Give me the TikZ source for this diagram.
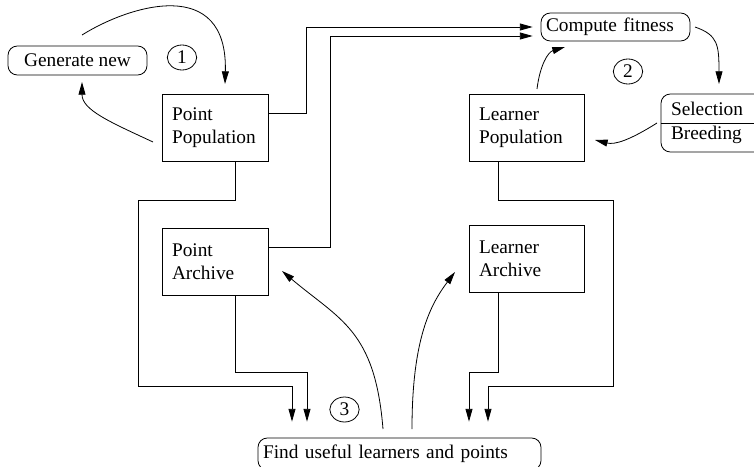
\documentclass[tikz,border=0pt]{standalone}
\usepackage{fontspec}
\setmainfont{Liberation Serif}
\usetikzlibrary{shapes.geometric, arrows.meta}

\begin{document}
\begin{tikzpicture}[x=0.75pt, y=-0.75pt, font=\fontsize{14.5}{17.5}\selectfont]
  \tikzstyle{popbox} = [rectangle, draw=black, line width=0.6pt, align=left, inner xsep=7.5pt, minimum height=50.25pt]
  \tikzstyle{taskbox} = [rectangle, rounded corners=7pt, draw=black, line width=0.6pt, inner xsep=3.75pt, inner ysep=0pt]
  \tikzstyle{stepnum} = [ellipse, draw=black, line width=0.6pt, inner sep=0pt, minimum width=22pt, minimum height=18.75pt]
  \tikzstyle{connector} = [line width=0.6pt, -{Triangle[length=9.5pt, width=5.2pt]}]

  \useasboundingbox (0,0) rectangle (754,467);

  % Populations and archives
  \node (ppop) at (215,127.5) [popbox, text width=64.5pt] {Point\\Population};
  \node (parch) at (215,261.5) [popbox, text width=64.5pt] {Point\\Archive};
  \node (lpop) at (526.5,127.5) [popbox, text width=71.25pt] {Learner\\Population};
  \node (larch) at (526.5,259) [popbox, text width=71.25pt, minimum height=50.25pt] {Learner\\Archive};

  % Tasks
  \node (gen) at (77.5,60.5) [taskbox, minimum width=104.25pt, minimum height=21.75pt] {Generate new};
  \node (cfit) at (615.5,27) [taskbox, text width=104.25pt, minimum height=21pt] {Compute fitness};
  \node (find) at (399.5,454) [taskbox, text width=204.75pt, minimum height=24pt] {Find useful learners and points};
  \node (selbr) at (714,123) [taskbox, text width=64.5pt, inner xsep=7.5pt, minimum height=43.5pt, align=left] {Selection\\Breeding};
  \draw[line width=0.6pt] (selbr.west) -- (selbr.east);

  % Step numbers
  \node (one) at (182,57.5) [stepnum] {1};
  \node (two) at (628,71.5) [stepnum] {2};
  \node (three) at (344.5,409.5) [stepnum] {3};

  % Free ends of the curved arrows
  \coordinate (genout) at (82,35);
  \coordinate (ppopin) at (225,84);
  \coordinate (ppopout) at (153,142);
  \coordinate (genin) at (82,82);
  \coordinate (lpopout) at (537,89);
  \coordinate (cfitin) at (565,47);
  \coordinate (cfitout) at (695,27);
  \coordinate (selin) at (719,84);
  \coordinate (selout) at (657,123);
  \coordinate (lpopin) at (595,140);
  \coordinate (findoutl) at (383,429);
  \coordinate (parchin) at (282,271);
  \coordinate (findoutr) at (412,429);
  \coordinate (larchin) at (455,272);

  % Cycle 1
  \draw[connector] (genout) .. controls (130,5) and (228,-25) .. (ppopin);
  \draw[connector] (ppopout) .. controls (110,122) and (82,110) .. (genin);

  % Cycle 2
  \draw[connector] (lpopout) .. controls (540,65) and (548,52) .. (cfitin);
  \draw[connector] (cfitout) .. controls (718,35) and (719,45) .. (selin);
  \draw[connector] (selout) .. controls (630,140) and (615,145) .. (lpopin);

  % Into fitness
  \draw[connector, shorten >=6pt] (ppop.east |- 0,113) -| (306,27) -- (cfit.west);
  \draw[connector, shorten >=6pt] (parch.east |- 0,247) -| (330,36) -- (cfit.west |- 0,36);

  % Into cycle 3
  \draw[connector, shorten >=12pt] (ppop.south -| 235,0) |- (138,200) |- (292,386) -- (find.north -| 292,0);
  \draw[connector, shorten >=12pt] (parch.south -| 235,0) |- (307,372) -- (find.north -| 307,0);
  \draw[connector, shorten >=12pt] (larch.south -| 498,0) |- (469,372) -- (find.north -| 469,0);
  \draw[connector, shorten >=12pt] (lpop.south -| 498,0) |- (613,200) |- (488,386) -- (find.north -| 488,0);

  % Cycle 3
  \draw[connector] (findoutl) .. controls (375,330) and (340,320) .. (parchin);
  \draw[connector] (findoutr) .. controls (412,340) and (430,305) .. (larchin);
\end{tikzpicture}
\end{document}
